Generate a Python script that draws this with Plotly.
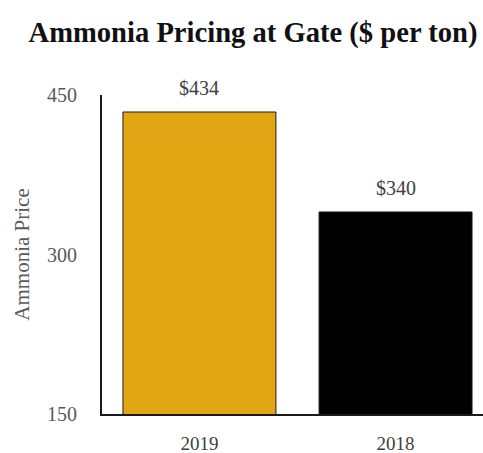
import plotly.graph_objects as go

categories = ["2019", "2018"]
prices = [434, 340]
labels = ["$434", "$340"]
colors = ["#E2A614", "#000000"]

fig = go.Figure()
fig.add_trace(go.Bar(
    x=categories, y=prices, width=0.78,
    marker=dict(color=colors, line=dict(color="#1a1a1a", width=1)),
    hoverinfo="skip",
))
for i, (v, t) in enumerate(zip(prices, labels)):
    fig.add_annotation(x=i, y=v, text=t, showarrow=False, yanchor="bottom", yshift=11,
                       font=dict(family="Liberation Serif", size=20, color="#404040"))

fig.update_layout(
    width=483, height=453,
    margin=dict(l=102, r=0, t=95, b=39, autoexpand=False),
    plot_bgcolor="white", paper_bgcolor="white",
    showlegend=False,
    title=dict(text="<b>Ammonia Pricing at Gate ($ per ton)</b>", x=253 / 483, xanchor="center",
               xref="container", yref="container", y=1 - 32 / 453, yanchor="middle",
               font=dict(family="Liberation Serif", size=28.6, color="#111111")),
    font=dict(family="Liberation Serif", size=20, color="#595959"),
)
fig.update_xaxes(type="category", range=[-0.497, 1.446], showline=True, linecolor="#1a1a1a",
                 linewidth=2, ticks="", automargin=False, ticklabelstandoff=11,
                 tickfont=dict(size=19, color="#404040"))
fig.update_yaxes(range=[150, 450], tickvals=[150, 300, 450], showgrid=False, zeroline=False,
                 showline=True, linecolor="#1a1a1a", linewidth=2, ticks="", automargin=False,
                 ticklabelstandoff=19, tickfont=dict(size=20, color="#595959"),
                 title=dict(text="Ammonia Price", standoff=12,
                            font=dict(size=21, color="#595959")))
fig.write_html("out.html", config={"displayModeBar": False},
               post_script="document.body.style.margin='0';document.body.style.overflow='hidden';")
